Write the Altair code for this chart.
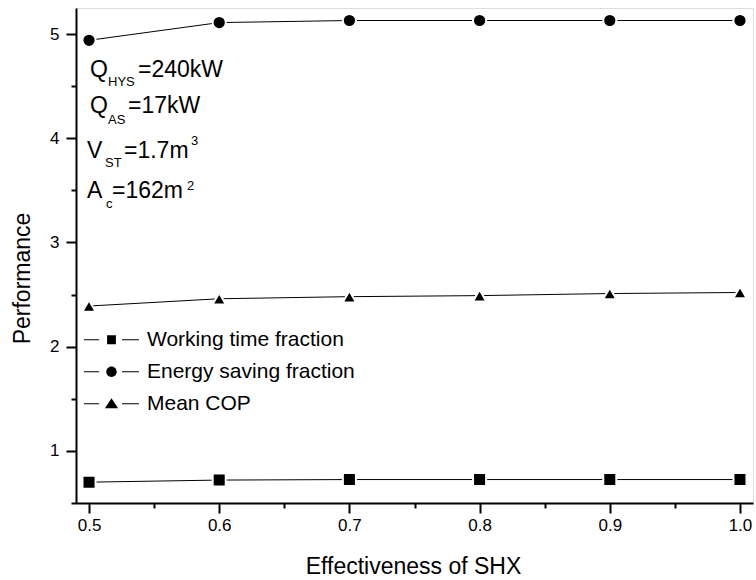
import altair as alt
import pandas as pd

# ---------------- data ----------------
x_vals = [0.5, 0.6, 0.7, 0.8, 0.9, 1.0]
working_time = [0.70, 0.72, 0.725, 0.725, 0.725, 0.725]
energy_saving = [4.94, 5.11, 5.13, 5.13, 5.13, 5.13]
mean_cop = [2.39, 2.46, 2.48, 2.49, 2.51, 2.52]
series_names = ["Working time fraction", "Energy saving fraction", "Mean COP"]

x_major = [0.5, 0.6, 0.7, 0.8, 0.9, 1.0]
x_minor = [0.55, 0.65, 0.75, 0.85, 0.95]
y_major = [1, 2, 3, 4, 5]
y_minor = [0.5, 1.5, 2.5, 3.5, 4.5]

df = pd.DataFrame({
    "x": x_vals * 3,
    "value": working_time + energy_saving + mean_cop,
    "series": [s for s in series_names for _ in x_vals],
})
one = pd.DataFrame({"k": [0]})

FONT = "Liberation Sans"
xscale = alt.Scale(domain=[0.49, 1.01], nice=False, zero=False)
yscale = alt.Scale(domain=[0.5, 5.25], nice=False, zero=False)

common_axis = dict(grid=False, domainColor="black", domainWidth=2, tickColor="black",
                   tickWidth=2, labelColor="black", labelFont=FONT, titleFont=FONT,
                   titleColor="black", titleFontWeight="normal")

x_axis_major = alt.Axis(values=x_major, format=".1f", orient="bottom", tickSize=10,
                        labelFontSize=17, labelPadding=4, title="Effectiveness of SHX",
                        titleFontSize=23, titleX=337, titleY=70, titleAlign="center",
                        titleBaseline="alphabetic", **common_axis)
y_axis_major = alt.Axis(values=y_major, format="d", orient="left", tickSize=10,
                        labelFontSize=17, labelPadding=7, title="Performance",
                        titleFontSize=23, titleAngle=270, titleX=-54, titleY=270,
                        titleAlign="center", titleBaseline="middle", **common_axis)
x_axis_minor = alt.Axis(values=x_minor, orient="bottom", tickSize=5, labels=False,
                        domain=False, title=None, grid=False, tickColor="black", tickWidth=2)
y_axis_minor = alt.Axis(values=y_minor, orient="left", tickSize=5, labels=False,
                        domain=False, title=None, grid=False, tickColor="black", tickWidth=2)

shape_scale = alt.Scale(domain=series_names, range=["square", "circle", "triangle-up"])
size_scale = alt.Scale(domain=series_names, range=[170, 180, 350])

lines = alt.Chart(df).mark_line(color="black", strokeWidth=1).encode(
    x=alt.X("x:Q", scale=xscale, axis=x_axis_major),
    y=alt.Y("value:Q", scale=yscale, axis=y_axis_major),
    detail="series:N",
)

points = alt.Chart(df).mark_point(filled=True, fill="black", stroke="white",
                                  strokeWidth=2, opacity=1).encode(
    x=alt.X("x:Q", scale=xscale, axis=x_axis_minor),
    y=alt.Y("value:Q", scale=yscale, axis=y_axis_minor),
    shape=alt.Shape("series:N", scale=shape_scale, legend=None),
    size=alt.Size("series:N", scale=size_scale, legend=None),
)

# legend symbols: dash - marker - dash, in [-1,1] box
sq = "M-1,-0.02H-0.45V0.02H-1Z M-0.16,-0.16H0.16V0.16H-0.16Z M0.38,-0.02H1V0.02H0.38Z"
ci = ("M-1,-0.02H-0.45V0.02H-1Z M-0.19,0A0.19,0.19 0 1,0 0.19,0A0.19,0.19 0 1,0 -0.19,0Z "
      "M0.38,-0.02H1V0.02H0.38Z")
tr = "M-1,-0.02H-0.45V0.02H-1Z M0,-0.2L0.24,0.16L-0.24,0.16Z M0.38,-0.02H1V0.02H0.38Z"
legend_layer = alt.Chart(df).mark_point(filled=True, opacity=0, color="black").encode(
    x=alt.X("x:Q", scale=xscale, axis=None),
    y=alt.Y("value:Q", scale=yscale, axis=None),
    shape=alt.Shape("series:N",
                    scale=alt.Scale(domain=series_names, range=[sq, ci, tr]),
                    legend=alt.Legend(title=None, orient="none", legendX=8, legendY=317,
                                      symbolSize=3025, symbolFillColor="black",
                                      symbolStrokeWidth=0, symbolOpacity=1,
                                      clipHeight=29.5,
                                      labelFontSize=21, labelFont=FONT, labelColor="black",
                                      labelOffset=8, rowPadding=2, padding=0,
                                      labelLimit=400)),
)


def txt(t, x, y, size):
    return alt.Chart(one).mark_text(text=t, align="left", baseline="alphabetic",
                                    fontSize=size, font=FONT, color="black").encode(
        x=alt.value(x), y=alt.value(y))


annotations = [
    txt("Q", 14, 69, 23), txt("HYS", 32, 78, 13), txt("=240kW", 62, 69, 23),
    txt("Q", 14, 105, 23), txt("AS", 32, 116, 13), txt("=17kW", 52, 105, 23),
    txt("V", 11, 150, 23), txt("ST", 29, 159, 13), txt("=1.7m", 48, 150, 23), txt("3", 115, 137, 13),
    txt("A", 11, 190, 23), txt("c", 30, 200, 13), txt("=162m", 36, 190, 23), txt("2", 111, 182, 13),
]

chart = alt.layer(lines, points, legend_layer, *annotations).resolve_axis(
    x="independent", y="independent"
).resolve_scale(shape="independent", size="independent").properties(
    width=677, height=495,
    autosize=alt.AutoSizeParams(type="none"),
    padding={"left": 76, "top": 8, "right": 3, "bottom": 77},
).configure_view(strokeWidth=0).configure(background="white")

chart.save("out.html", embed_options={"renderer": "svg", "actions": False})
